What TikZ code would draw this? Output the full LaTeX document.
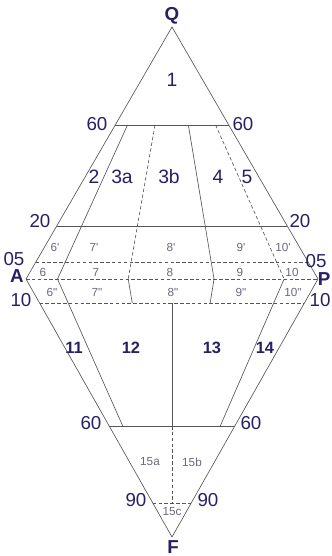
\documentclass[tikz,border=0pt]{standalone}
\usepackage{fontspec}
\setmainfont{Liberation Sans}[Ligatures=TeXOff]
\usetikzlibrary{calc}
\definecolor{labelnavy}{RGB}{40,32,102}
\definecolor{labelgrey}{RGB}{105,105,125}
\definecolor{linegrey}{RGB}{85,85,85}

\begin{document}
\begin{tikzpicture}[x=0.03cm, y=-0.03cm,
  edge/.style={draw=linegrey, line width=0.55pt},
  dashedge/.style={edge, dash pattern=on 3pt off 2pt},
  corner/.style={font=\fontsize{16}{16}\selectfont\bfseries, text=labelnavy},
  tick/.style={font=\fontsize{16}{16}\selectfont, text=labelnavy},
  field/.style={font=\fontsize{16.5}{16.5}\selectfont, text=labelnavy},
  lowfield/.style={font=\fontsize{14}{14}\selectfont\bfseries, text=labelnavy},
  subfield/.style={font=\fontsize{10}{10}\selectfont, text=labelgrey}]
\useasboundingbox (0,0) rectangle (331,556);
% corners of the double triangle
\coordinate (Q) at (172,27);
\coordinate (A) at (26,279);
\coordinate (P) at (318,279);
\coordinate (F) at (172,537);
\coordinate (m) at ($(A)!0.5!(P)$);
\foreach \i/\t in {1/0.108,2/0.35,3/0.644,4/0.884}
  \coordinate (a\i) at ($(A)!\t!(P)$);
% outline
\draw[edge] (A) -- (Q) -- (P) -- (F) -- cycle;
\draw[dashedge] (A) -- (P);
% Q levels
\draw[edge] ($(Q)!0.389!(A)$) -- ($(Q)!0.389!(P)$);
\draw[edge] ($(Q)!0.79!(A)$) -- ($(Q)!0.79!(P)$);
\draw[dashedge] ($(Q)!0.933!(A)$) -- ($(Q)!0.933!(P)$);
% F levels
\draw[dashedge] ($(F)!0.907!(A)$) -- ($(F)!0.907!(P)$);
\draw[edge] ($(F)!0.43!(A)$) -- ($(F)!0.43!(P)$);
\draw[dashedge] ($(F)!0.132!(A)$) -- ($(F)!0.132!(P)$);
% upper dividers
\draw[edge] ($(Q)!0.389!(a1)$) -- (a1);
\draw[dashedge] ($(Q)!0.389!(a2)$) -- (a2);
\draw[edge] ($(Q)!0.389!(a3)$) -- (a3);
\draw[dashedge] ($(Q)!0.389!(a4)$) -- (a4);
% lower dividers
\draw[edge] (a1) -- ($(a1)!0.57!(F)$);
\draw[edge] (a2) -- ($(a2)!0.093!(F)$);
\draw[edge] (a3) -- ($(a3)!0.093!(F)$);
\draw[edge] (a4) -- ($(a4)!0.57!(F)$);
\draw[edge] ($(m)!0.093!(F)$) -- ($(m)!0.57!(F)$);
\draw[dashedge] ($(m)!0.57!(F)$) -- ($(m)!0.868!(F)$);
% corner letters
\node[corner] (q) at (172,16) {Q};
\node[corner] (a) at (17,276) {A};
\node[corner] (p) at (324,279) {P};
\node[corner] (f) at (173,547) {F};
% percentages
\node[tick] (q60l) at (97,124) {60};
\node[tick] (q60r) at (243,124) {60};
\node[tick] (q20l) at (40,221) {20};
\node[tick] (q20r) at (300,221) {20};
\node[tick] (q05l) at (14,259) {05};
\node[tick] (q05r) at (316,261) {05};
\node[tick] (f10l) at (21,300) {10};
\node[tick] (f10r) at (320,300) {10};
\node[tick] (f60l) at (91,423) {60};
\node[tick] (f60r) at (251,423) {60};
\node[tick] (f90l) at (136,500) {90};
\node[tick] (f90r) at (208,500) {90};
% fields
\node[field] (f1) at (172,80) {1};
\node[field] (f2) at (94,177) {2};
\node[field] (f3a) at (122,177) {3a};
\node[field] (f3b) at (169,177) {3b};
\node[field] (f4) at (218,177) {4};
\node[field] (f5) at (247,177) {5};
\node[lowfield] (f11) at (74,348) {11};
\node[lowfield] (f12) at (131,348) {12};
\node[lowfield] (f13) at (212,348) {13};
\node[lowfield] (f14) at (265,348) {14};
% sub fields
\node[subfield] (s6a) at (55,247) {6'};
\node[subfield] (s7a) at (94,247) {7'};
\node[subfield] (s8a) at (171,247) {8'};
\node[subfield] (s9a) at (241,247) {9'};
\node[subfield] (s10a) at (283,247) {10'};
\node[subfield] (s6) at (43,272) {6};
\node[subfield] (s7) at (96,272) {7};
\node[subfield] (s8) at (170,272) {8};
\node[subfield] (s9) at (240,272) {9};
\node[subfield] (s10) at (292,272) {10};
\node[subfield] (s6b) at (52,292) {6"};
\node[subfield] (s7b) at (97,292) {7"};
\node[subfield] (s8b) at (173,292) {8"};
\node[subfield] (s9b) at (241,292) {9"};
\node[subfield] (s10b) at (293,292) {10"};
\node[subfield] (s15a) at (150,462) {15a};
\node[subfield] (s15b) at (192,462) {15b};
\node[subfield] (s15c) at (172,512) {15c};
\end{tikzpicture}
\end{document}
